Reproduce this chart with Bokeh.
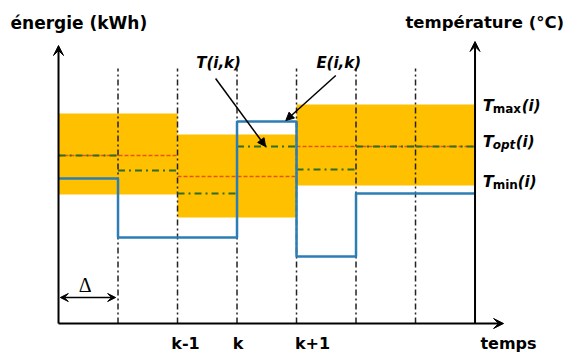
from bokeh.plotting import figure
from bokeh.models import Arrow, VeeHead, NormalHead, Range1d
from bokeh.embed import file_html
from bokeh.resources import INLINE
from bokeh.core.properties import value

# ---- data (time in sampling steps, values in arbitrary units) ----
edges = [0, 1, 2, 3, 4, 5, 6, 7]
band_start = [0, 2, 4]
band_end = [2, 4, 7]
t_max = [21.0, 18.9, 21.9]
t_min = [12.9, 10.6, 13.8]
t_opt = [16.8, 14.7, 17.7]
t_ik = [16.8, 15.3, 13.0, 17.7, 15.4, 17.7, 17.7]
e_ik = [14.5, 8.6, 8.6, 20.2, 6.7, 13.0, 13.0]
grid_x = [1, 2, 3, 4, 5, 6]
step_labels = ["k-1", "k", "k+1"]
step_pos = [2, 3, 4]

ORANGE = "#FFC000"
BLUE = "#2C7DB5"
RED = "#E2561B"
GREEN = "#336B22"
FONT = value("DejaVu Sans")

p = figure(width=563, height=352, x_range=Range1d(-0.975, 8.487), y_range=Range1d(-2.9, 32.3),
           output_backend="svg", toolbar_location=None, min_border=0,
           x_axis_location=None, y_axis_location=None)
p.outline_line_color = None
p.background_fill_color = "white"
p.xgrid.visible = False
p.ygrid.visible = False

# comfort bands
p.quad(left=band_start, right=band_end, bottom=t_min, top=t_max,
       fill_color=ORANGE, line_color=None)

# sampling instants
p.segment(x0=grid_x, x1=grid_x, y0=[0] * len(grid_x), y1=[25.5] * len(grid_x),
          line_color="#222222", line_width=1.5, line_dash="6 3 2 3")

# optimal temperature
p.segment(x0=band_start, x1=band_end, y0=t_opt, y1=t_opt,
          line_color=RED, line_width=1.6, line_dash="4 2")

# temperature T(i,k)
p.segment(x0=edges[:-1], x1=edges[1:], y0=t_ik, y1=t_ik,
          line_color=GREEN, line_width=2.2, line_dash="7 4 2 4")

# energy E(i,k)
p.step(x=edges, y=e_ik + [e_ik[-1]], mode="after", line_color=BLUE, line_width=2.5)

# axes with arrows
def arrow(x0, y0, x1, y1, size=10, w=2, both=False):
    head = VeeHead(size=size, fill_color="black", line_color="black", line_width=1)
    kw = dict(end=head, x_start=x0, y_start=y0, x_end=x1, y_end=y1,
              line_color="black", line_width=w)
    if both:
        kw["start"] = VeeHead(size=size, fill_color="black", line_color="black", line_width=1)
    else:
        kw["start"] = None
    p.add_layout(Arrow(**kw))

arrow(0, 0, 0, 27.8)
arrow(7, 0, 7, 28.2)
arrow(0, 0, 7.48, 0)
arrow(0.03, 2.6, 0.96, 2.6, size=8, w=1.5, both=True)

# annotation arrows
p.add_layout(Arrow(end=NormalHead(size=8, fill_color="black", line_color="black"),
                   x_start=2.64, y_start=24.5, x_end=3.48, y_end=17.7,
                   line_color="black", line_width=1.5))
p.add_layout(Arrow(end=NormalHead(size=8, fill_color="black", line_color="black"),
                   x_start=4.66, y_start=24.8, x_end=3.82, y_end=20.3,
                   line_color="black", line_width=1.5))

def txt(x, y, s, size="15px", style="bold", align="left", base="middle", font=FONT, xo=0, yo=0, color="black"):
    p.text(x=[x], y=[y], text=[s], text_font=font, text_font_size=size, text_font_style=style,
           text_align=align, text_baseline=base, x_offset=xo, y_offset=yo, text_color=color)

txt(-0.807, 30.1, "énergie (kWh)", size="17px")
txt(5.83, 30.1, "température (°C)", size="16.5px")
txt(2.69, 26.1, "T(i,k)", style="bold italic", align="center")
txt(4.71, 26.1, "E(i,k)", style="bold italic", align="center")
txt(0.45, 3.9, "Δ", size="20px", style="normal", align="center", font=value("Liberation Serif"))

# right-side labels with subscripts
rx = 7.13
for yv, sub, sub_style, w in [(21.2, "max", "bold", 29), (17.6, "opt", "bold italic", 23), (13.6, "min", "bold", 25)]:
    txt(rx, yv, "T", size="16px", style="bold italic", base="alphabetic", yo=-6)
    txt(rx, yv, sub, size="12px", style=sub_style, base="alphabetic", xo=10, yo=-3)
    txt(rx, yv, "(i)", size="15px", style="bold italic", base="alphabetic", xo=10 + w, yo=-6)

# time labels
for s, xp, xo in zip(step_labels, step_pos, [8, 1, 16]):
    txt(xp, -2.0, s, size="16px", align="center", xo=xo)
txt(7.09, -2.0, "temps", size="16px")

open("out.html", "w").write(file_html(p, INLINE))
